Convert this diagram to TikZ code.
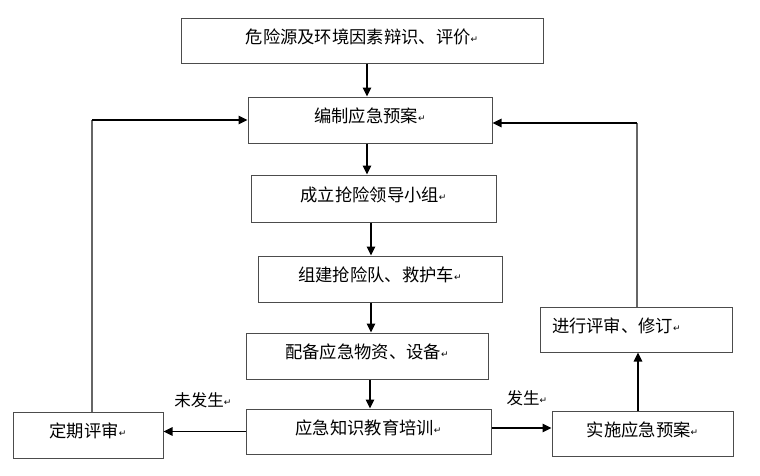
\documentclass[tikz,border=0pt]{standalone}
\usepackage{fontspec}
\newfontfamily\cjk{Noto Sans CJK SC}
\newfontfamily\dejavu{DejaVu Sans}
\usetikzlibrary{arrows.meta}
\newcommand{\parmark}{{\dejavu\fontsize{9}{9}\selectfont\raisebox{1pt}{↵}}}
\tikzset{
  box/.style={draw=black!70, line width=1pt, inner sep=0pt, text height=10pt, text depth=5pt,
    font=\cjk\fontsize{17.3}{18}\selectfont},
  lbl/.style={inner sep=0pt, font=\cjk\fontsize{16.5}{17}\selectfont},
  arr/.style={line width=1.6pt, -{Triangle[length=9pt,width=8.5pt]}},
  thinline/.style={draw=black!60, line width=1.2pt},
}
\begin{document}
\begin{tikzpicture}[x=1pt,y=-1pt]
\useasboundingbox (0,0) rectangle (760,475);
\node[box, minimum width=362pt, minimum height=45pt] (b1) at (362,40.5) {危险源及环境因素辩识、评价\parmark};
\node[box, minimum width=244pt, minimum height=46pt] (b2) at (370,120) {编制应急预案\parmark};
\node[box, minimum width=245pt, minimum height=47pt] (b3) at (373.5,198.5) {成立抢险领导小组\parmark};
\node[box, minimum width=244pt, minimum height=46pt] (b4) at (380,279) {组建抢险队、救护车\parmark};
\node[box, minimum width=242pt, minimum height=46pt] (b5) at (367,356) {配备应急物资、设备\parmark};
\node[box, minimum width=245pt, minimum height=45pt] (b6) at (368.5,431.5) {应急知识教育培训\parmark};
\node[box, minimum width=150pt, minimum height=46pt] (b7) at (88,435) {定期评审\parmark};
\node[box, minimum width=181pt, minimum height=45pt] (b8) at (642.5,433.5) {实施应急预案\parmark};
\node[box, minimum height=45pt, text width=168pt, inner xsep=12pt, align=left] (b9) at (636,329.5) {进行评审、修订\parmark};
\node[lbl] (l1) at (203,400) {未发生\parmark};
\node[lbl] (l2) at (527,398) {发生\parmark};
% vertical chain
\draw[arr] ([xshift=5pt]b1.south) -- ([xshift=-3pt]b2.north);
\draw[arr] ([xshift=-3pt]b2.south) -- ([xshift=-6.5pt]b3.north);
\draw[arr] ([xshift=-2.5pt]b3.south) -- ([xshift=-9pt]b4.north);
\draw[arr] ([xshift=-9pt]b4.south) -- ([xshift=4pt]b5.north);
\draw[arr] ([xshift=3pt]b5.south) -- ([xshift=1.5pt]b6.north);
% branches
\coordinate (e6) at ([yshift=3.5pt]b6.east);
\coordinate (n8) at ([xshift=-4.5pt]b8.north);
\draw[arr] (b6.west) -- (b7.east |- b6.west);
\draw[arr] (e6) -- (b8.west |- e6);
\draw[arr] (n8) -- (b9.south -| n8);
% feedback loops
\coordinate (lc) at (92,120);
\coordinate (rc) at (637,123);
\draw[thinline] ([xshift=4pt]b7.north) -- (lc);
\draw[arr] (lc) -- (b2.west |- lc);
\draw[thinline] ([xshift=1pt]b9.north) -- (rc);
\draw[arr] (rc) -- (b2.east |- rc);
\end{tikzpicture}
\end{document}
